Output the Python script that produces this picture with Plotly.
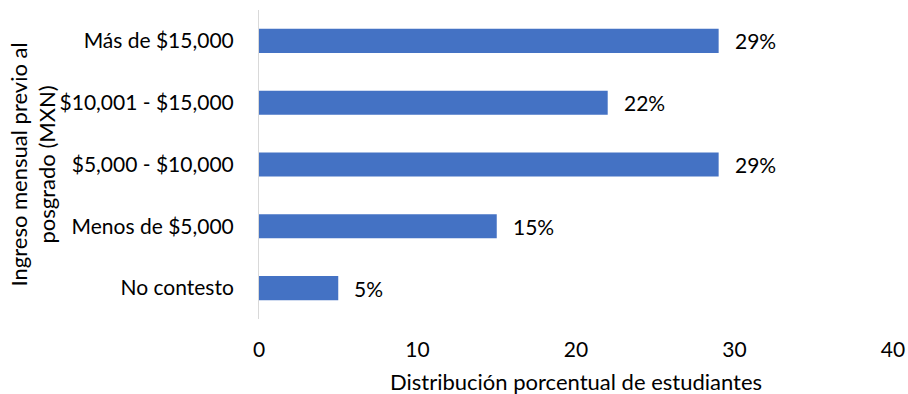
import plotly.graph_objects as go

# Income brackets, listed bottom to top
categories = ["No contesto", "Menos de $5,000", "$5,000 - $10,000",
              "$10,001 - $15,000", "Más de $15,000"]
percentages = [5, 15, 29, 22, 29]
x_ticks = [0, 10, 20, 30, 40]

FONT = "Lato, 'Open Sans', sans-serif"
BAR_COLOR = "#4472C4"
TEXT = dict(family=FONT, size=21, color="#000000")
TITLE = dict(family=FONT, size=22, color="#000000")

fig = go.Figure(
    go.Bar(
        x=percentages,
        y=categories,
        orientation="h",
        marker=dict(color=BAR_COLOR, line=dict(width=0)),
        width=0.39,
        hoverinfo="skip",
    )
)

# Value labels to the right of each bar
for cat, val in zip(categories, percentages):
    fig.add_annotation(
        x=val, y=cat, xref="x", yref="y",
        text=f"{val}%", showarrow=False,
        xanchor="left", yanchor="middle", xshift=14,
        font=TEXT,
    )

# Axis titles
fig.add_annotation(
    x=0, y=0.5, xref="paper", yref="paper",
    text="Ingreso mensual previo al<br>posgrado (MXN)",
    textangle=-90, showarrow=False,
    xanchor="center", yanchor="middle", xshift=-227,
    font=TITLE,
)
fig.add_annotation(
    x=0.5, y=0, xref="paper", yref="paper",
    text="Distribución porcentual de estudiantes",
    showarrow=False, xanchor="center", yanchor="middle", yshift=-62,
    borderpad=0,
    font=TITLE,
)

fig.update_layout(
    width=908, height=394,
    margin=dict(l=259, r=15, t=10, b=75),
    paper_bgcolor="white", plot_bgcolor="white",
    showlegend=False,
    font=TEXT,
    xaxis=dict(
        range=[0, 40], tickvals=x_ticks,
        showgrid=False, zeroline=False, showline=False,
        ticks="outside", ticklen=12, tickcolor="rgba(0,0,0,0)",
        tickfont=TEXT, ticklabeloverflow="allow",
        automargin=False, fixedrange=True,
    ),
    yaxis=dict(
        categoryorder="array", categoryarray=categories,
        range=[-0.5, 4.5],
        showgrid=False, zeroline=False,
        showline=True, linecolor="#D9D9D9", linewidth=1,
        ticks="outside", ticklen=20, tickcolor="rgba(0,0,0,0)",
        tickfont=TEXT,
        automargin=False, fixedrange=True,
    ),
)

fig.write_html("out.html")
